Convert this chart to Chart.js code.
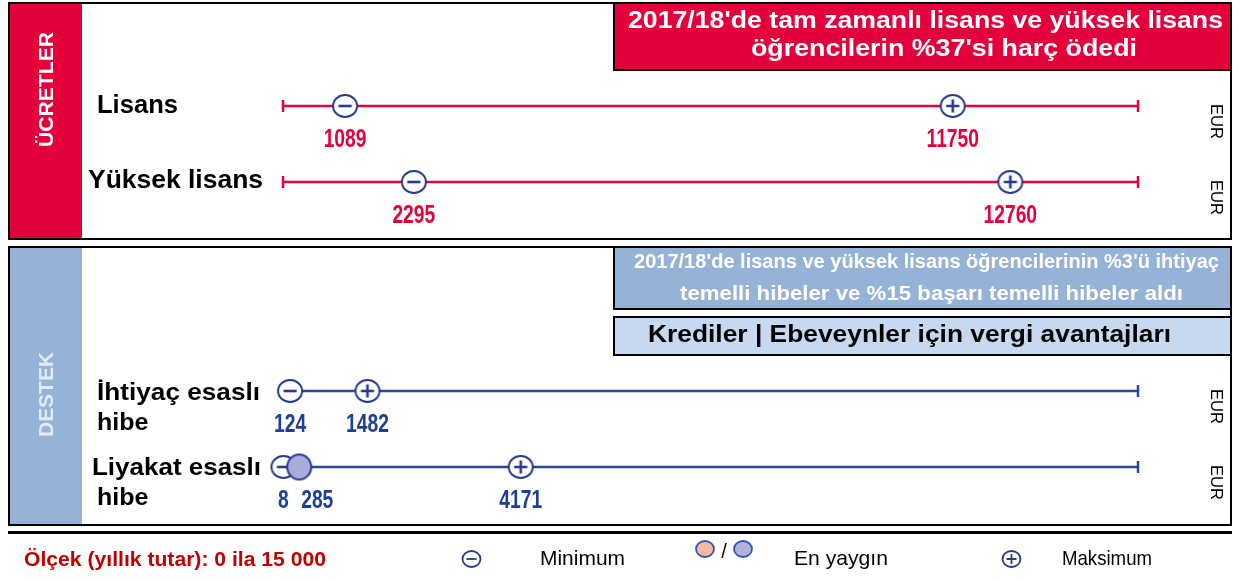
<!DOCTYPE html>
<html>
<head>
<meta charset="utf-8">
<script src="https://cdn.jsdelivr.net/npm/chart.js@4"></script>
<style>
  body { margin: 0; background: #fff; }
  canvas { display: block; }
</style>
</head>
<body>
<canvas id="feesChart" width="1234" height="581"></canvas>
<script>
// Data
const categories = ['Lisans', 'Yüksek lisans', 'İhtiyaç esaslı hibe', 'Liyakat esaslı hibe'];
const minValues = [1089, 2295, 124, 8];
const maxValues = [11750, 12760, 1482, 4171];
const commonValues = [null, null, null, 285];
const scaleMin = 0;
const scaleMax = 15000;
const unit = 'EUR';

// layout (pixel rows on the y scale)
const rowY = [106, 182, 391, 467];
const RED = '#e4003b';
const NAVY = '#283a8e';
const BLUE_LINE = '#2c4699';
const LABEL_BLUE = '#1f3f94';
const FONT = '"Liberation Sans", Arial, sans-serif';

function makeIcon(kind, rx, ry, fill) {
    const c = document.createElement('canvas');
    c.width = Math.ceil(rx * 2 + 4); c.height = Math.ceil(ry * 2 + 4);
    const g = c.getContext('2d');
    const mx = c.width / 2, my = c.height / 2;
    g.beginPath();
    g.ellipse(mx, my, rx, ry, 0, 0, Math.PI * 2);
    g.fillStyle = fill;
    g.fill();
    g.lineWidth = 2;
    g.strokeStyle = NAVY;
    g.stroke();
    g.lineWidth = 2.6;
    g.beginPath();
    if (kind === 'minus' || kind === 'plus') {
        g.moveTo(mx - rx * 0.55, my); g.lineTo(mx + rx * 0.55, my);
    }
    if (kind === 'plus') {
        g.moveTo(mx, my - ry * 0.6); g.lineTo(mx, my + ry * 0.6);
    }
    g.stroke();
    return c;
}
const minusIcon = makeIcon('minus', 12, 11, '#fff');
const plusIcon = makeIcon('plus', 12, 11, '#fff');
const commonIcon = makeIcon('common', 12, 12.5, '#a8acdb');

// y is the middle of the capitals; text can be squeezed/stretched to span `width` px
function txt(ctx, s, x, y, size, opts) {
    opts = opts || {};
    ctx.save();
    ctx.font = (opts.bold ? 'bold ' : '') + size + 'px ' + FONT;
    ctx.fillStyle = opts.color || '#000';
    ctx.textAlign = opts.align || 'left';
    ctx.textBaseline = 'alphabetic';
    let sx = opts.sx || 1;
    if (opts.width) sx = opts.width / ctx.measureText(s).width;
    ctx.translate(x, y);
    if (opts.rotate) ctx.rotate(opts.rotate);
    ctx.scale(sx, 1);
    ctx.fillText(s, 0, size * 0.358);
    ctx.restore();
}

function box(ctx, x, y, w, h, fill) {
    if (fill) { ctx.fillStyle = fill; ctx.fillRect(x, y, w, h); }
    ctx.lineWidth = 2;
    ctx.strokeStyle = '#000';
    ctx.strokeRect(x, y, w, h);
}

const backdrop = {
    id: 'backdrop',
    beforeDraw(chart) {
        const ctx = chart.ctx;
        ctx.save();
        ctx.fillStyle = '#fff';
        ctx.fillRect(0, 0, chart.width, chart.height);

        // top panel (fees)
        ctx.fillStyle = RED;
        ctx.fillRect(9, 3, 73, 236);
        box(ctx, 9, 3, 1222, 236, null);
        box(ctx, 614, 3, 617, 67, RED);
        txt(ctx, "2017/18'de tam zamanlı lisans ve yüksek lisans", 925.5, 20, 23, { bold: true, color: '#fff', align: 'center', width: 595 });
        txt(ctx, "öğrencilerin %37'si harç ödedi", 944, 48, 23, { bold: true, color: '#fff', align: 'center', width: 386 });

        // bottom panel (support)
        ctx.fillStyle = '#95b3d7';
        ctx.fillRect(9, 247, 73, 278);
        box(ctx, 9, 247, 1222, 278, null);
        box(ctx, 614, 247, 617, 62, '#95b3d7');
        txt(ctx, "2017/18'de lisans ve yüksek lisans öğrencilerinin %3'ü ihtiyaç", 926.5, 261, 20, { bold: true, color: '#fff', align: 'center', width: 585 });
        txt(ctx, "temelli hibeler ve %15 başarı temelli hibeler aldı", 931.5, 293, 20, { bold: true, color: '#fff', align: 'center', width: 503 });
        box(ctx, 614, 317, 617, 38, '#c6d9f1');
        txt(ctx, 'Krediler | Ebeveynler için vergi avantajları', 648, 333.5, 23, { bold: true, width: 523 });

        // side strip titles
        txt(ctx, 'ÜCRETLER', 45, 89.5, 21, { bold: true, color: '#fff', align: 'center', rotate: -Math.PI / 2, width: 115 });
        txt(ctx, 'DESTEK', 45, 394.5, 21, { bold: true, color: '#e2eaf4', align: 'center', rotate: -Math.PI / 2, width: 85 });

        // row labels
        txt(ctx, 'Lisans', 97, 104, 25, { bold: true, width: 81 });
        txt(ctx, 'Yüksek lisans', 88, 179, 25, { bold: true, width: 175 });
        txt(ctx, 'İhtiyaç esaslı', 97, rowY[2] + 0.5, 24, { bold: true, width: 163 });
        txt(ctx, 'hibe', 97, rowY[2] + 30.5, 24, { bold: true, width: 51.5 });
        txt(ctx, 'Liyakat esaslı', 92, rowY[3] - 0.5, 24, { bold: true, width: 169 });
        txt(ctx, 'hibe', 97, rowY[3] + 29.5, 24, { bold: true, width: 51.5 });

        // separator
        ctx.fillStyle = '#000';
        ctx.fillRect(8, 531, 1224, 3);
        ctx.restore();
    },
    afterDraw(chart) {
        const ctx = chart.ctx;
        const xs = chart.scales.x;
        ctx.save();
        categories.forEach((c, i) => {
            const col = i < 2 ? RED : LABEL_BLUE;
            const y = rowY[i] + 31.5;
            const o = { bold: true, color: col, align: 'center', sx: 0.74 };
            txt(ctx, String(minValues[i]), xs.getPixelForValue(minValues[i]), y, 26, o);
            txt(ctx, String(maxValues[i]), xs.getPixelForValue(maxValues[i]), y, 26, o);
            if (commonValues[i] !== null) {
                // nudge right so it does not sit on the minimum label
                txt(ctx, String(commonValues[i]), xs.getPixelForValue(commonValues[i]) + 18, y, 26, o);
            }
            txt(ctx, unit, 1217, rowY[i] + 15.5, 16.5, { align: 'center', rotate: Math.PI / 2, width: 35 });
        });

        // legend row
        txt(ctx, 'Ölçek (yıllık tutar): 0 ila 15 000', 24, 558, 21, { bold: true, color: '#c00000', width: 302 });
        const sm = (kind, x, y, fill, stroke) => {
            ctx.beginPath();
            ctx.ellipse(x, y, 9, 8, 0, 0, Math.PI * 2);
            ctx.fillStyle = fill; ctx.fill();
            ctx.lineWidth = 1.8; ctx.strokeStyle = stroke; ctx.stroke();
            ctx.beginPath();
            if (kind !== 'o') { ctx.moveTo(x - 5, y); ctx.lineTo(x + 5, y); }
            if (kind === '+') { ctx.moveTo(x, y - 5); ctx.lineTo(x, y + 5); }
            ctx.lineWidth = 1.8; ctx.stroke();
        };
        sm('-', 471.5, 559, '#fff', NAVY);
        txt(ctx, 'Minimum', 540, 557, 21, { width: 85 });
        sm('o', 705, 549, '#f4b8a3', '#2f57b4');
        txt(ctx, '/', 724, 551, 20, { align: 'center' });
        sm('o', 743, 549, '#aeb2dc', '#2f57b4');
        txt(ctx, 'En yaygın', 794, 557, 21, { width: 94 });
        sm('+', 1011.5, 559, '#fff', NAVY);
        txt(ctx, 'Maksimum', 1062, 557, 21, { width: 90 });
        ctx.restore();
    }
};

const pts = (vals) => vals.map((v, i) => v === null ? null : { x: v, y: rowY[i] }).filter(p => p);

const datasets = [
    { type: 'scatter', label: 'En yaygın', data: pts(commonValues), pointStyle: commonIcon, pointRadius: 12, clip: false, order: 0 },
    { type: 'scatter', label: 'Minimum', data: pts(minValues), pointStyle: minusIcon, pointRadius: 12, clip: false, order: 1 },
    { type: 'scatter', label: 'Maksimum', data: pts(maxValues), pointStyle: plusIcon, pointRadius: 12, clip: false, order: 1 }
];
categories.forEach((c, i) => {
    const col = i < 2 ? RED : BLUE_LINE;
    datasets.push({
        type: 'line',
        label: c,
        data: [{ x: scaleMin, y: rowY[i] }, { x: scaleMax, y: rowY[i] }],
        borderColor: col,
        borderWidth: 2.5,
        pointStyle: 'line',
        rotation: 90,
        pointRadius: i < 2 ? [6, 6] : [0, 6],
        pointBorderColor: col,
        pointBorderWidth: 2.5,
        clip: false,
        order: 2
    });
});

new Chart(document.getElementById('feesChart').getContext('2d'), {
    type: 'scatter',
    data: { datasets: datasets },
    options: {
        responsive: false,
        animation: false,
        events: [],
        layout: { autoPadding: false, padding: { left: 283, right: 96, top: 0, bottom: 0 } },
        scales: {
            x: { type: 'linear', min: scaleMin, max: scaleMax, display: false },
            y: { type: 'linear', min: 0, max: 581, reverse: true, display: false }
        },
        plugins: {
            legend: { display: false },
            tooltip: { enabled: false }
        }
    },
    plugins: [backdrop]
});
</script>
</body>
</html>
